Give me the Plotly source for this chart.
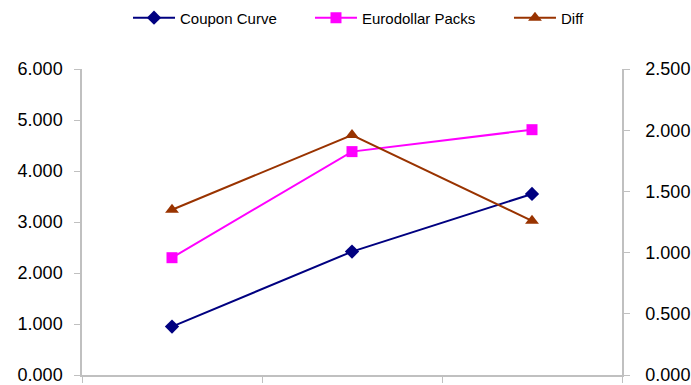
import plotly.graph_objects as go

categories = ["1", "2", "3"]
coupon_curve = [0.95, 2.42, 3.55]
eurodollar_packs = [2.30, 4.38, 4.81]
diff = [1.35, 1.96, 1.26]

left_ticks = [0, 1, 2, 3, 4, 5, 6]
right_ticks = [0, 0.5, 1.0, 1.5, 2.0, 2.5]

xpos = list(range(len(categories)))
gray = "#c0c0c0"

fig = go.Figure()
fig.add_trace(go.Scatter(x=xpos, y=coupon_curve, name="Coupon Curve", mode="lines+markers",
                         legend="legend",
                         line=dict(color="#000080", width=2),
                         marker=dict(symbol="diamond", size=11, color="#000080")))
fig.add_trace(go.Scatter(x=xpos, y=eurodollar_packs, name="Eurodollar Packs", mode="lines+markers",
                         legend="legend2",
                         line=dict(color="#FF00FF", width=2),
                         marker=dict(symbol="square", size=11, color="#FF00FF")))
fig.add_trace(go.Scatter(x=xpos, y=diff, name="Diff", mode="lines+markers", yaxis="y2",
                         legend="legend3",
                         line=dict(color="#993300", width=2),
                         marker=dict(symbol="triangle-up", size=12, color="#993300")))

font_family = "Liberation Sans, Arial, sans-serif"
legend_common = dict(orientation="h", xanchor="left", y=1.167, yanchor="middle",
                     font=dict(size=15, family=font_family), itemwidth=42,
                     bgcolor="rgba(0,0,0,0)")

fig.update_layout(
    width=691, height=385,
    margin=dict(l=82, r=69, t=69, b=10, autoexpand=False),
    paper_bgcolor="white", plot_bgcolor="white",
    font=dict(family=font_family, color="black"),
    showlegend=True,
    legend=dict(x=0.0852, **legend_common),
    legend2=dict(x=0.4222, **legend_common),
    legend3=dict(x=0.7907, **legend_common),
    xaxis=dict(range=[-0.5, len(categories) - 0.5],
               tickvals=[i - 0.5 for i in range(len(categories) + 1)],
               ticktext=["" for _ in range(len(categories) + 1)],
               showgrid=False, zeroline=False, showline=True, linecolor=gray, linewidth=1.5,
               ticks="outside", ticklen=6, tickcolor=gray, tickwidth=1, automargin=False),
    yaxis=dict(range=[0, 6], tickvals=left_ticks, tickformat=".3f",
               showgrid=False, zeroline=False, showline=True, linecolor=gray, linewidth=1.5,
               ticks="outside", ticklen=6, tickcolor=gray, tickwidth=1, automargin=False,
               ticklabeloverflow="allow",
               tickfont=dict(size=18), ticklabelstandoff=8),
    yaxis2=dict(range=[0, 2.5], tickvals=right_ticks, tickformat=".3f", overlaying="y", side="right",
                showgrid=False, zeroline=False, showline=True, linecolor=gray, linewidth=1.5,
                ticks="outside", ticklen=6, tickcolor=gray, tickwidth=1, automargin=False,
                ticklabeloverflow="allow",
                tickfont=dict(size=18), ticklabelstandoff=12),
)

fig.write_html("out.html")
